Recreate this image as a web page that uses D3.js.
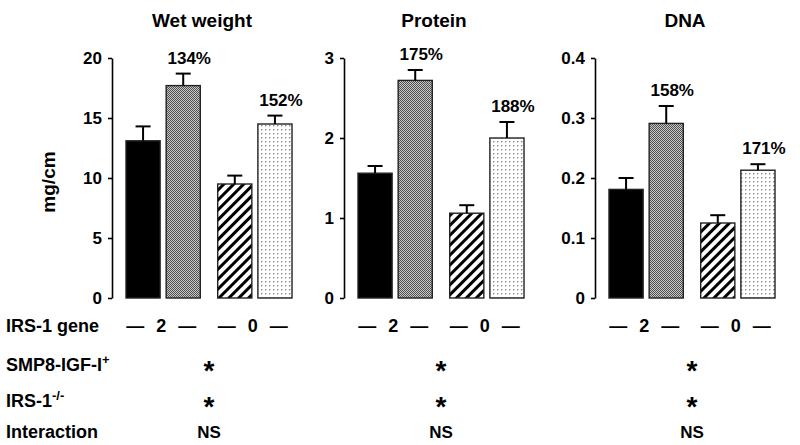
<!DOCTYPE html>
<html>
<head>
<meta charset="utf-8">
<script src="https://cdn.jsdelivr.net/npm/d3@7"></script>
<style>
  html, body { margin: 0; padding: 0; background: #fff; }
  svg { display: block; font-family: "Liberation Sans", Arial, sans-serif; font-weight: bold; }
</style>
</head>
<body>
<svg id="chart" width="800" height="445"></svg>
<script>
// ---------------- DATA ----------------
const panelTitles = ["Wet weight", "Protein", "DNA"];
const geneGroups = ["2", "0"];                  // IRS-1 gene copies
const treatments = ["control", "SMP8-IGF-I+"];  // within each gene group
const wetMean = [13.1, 17.7, 9.5, 14.5];
const wetSE = [1.2, 1.0, 0.7, 0.7];
const proteinMean = [1.56, 2.72, 1.06, 2.0];
const proteinSE = [0.09, 0.13, 0.10, 0.20];
const dnaMean = [0.181, 0.291, 0.125, 0.213];
const dnaSE = [0.019, 0.029, 0.013, 0.010];
const pctLabels = [["134%", "152%"], ["175%", "188%"], ["158%", "171%"]];
const yMax = [20, 3, 0.4];
const yTicks = [[0, 5, 10, 15, 20], [0, 1, 2, 3], [0, 0.1, 0.2, 0.3, 0.4]];
const yLabel = "mg/cm";
const rowLabels = ["IRS-1 gene", "SMP8-IGF-I", "IRS-1", "Interaction"];
const rowSup = ["", "+", "-/-", ""];
const statIGF = ["*", "*", "*"];
const statIRS = ["*", "*", "*"];
const statInteraction = ["NS", "NS", "NS"];

const means = [wetMean, proteinMean, dnaMean];
const ses = [wetSE, proteinSE, dnaSE];

// ---------------- LAYOUT ----------------
const svg = d3.select("#chart");
const axisX = [112, 344, 595];
const barOffset = 14, barsWidth = 166;
const yTop = 58, yBottom = 298;
const rowY = [332, 371, 407, 438];
const fills = ["#000", "url(#checker)", "url(#hatch)", "url(#dots)"];

// patterns
const defs = svg.append("defs");
const chk = defs.append("pattern").attr("id", "checker").attr("patternUnits", "userSpaceOnUse")
  .attr("width", 2).attr("height", 2);
chk.append("rect").attr("width", 2).attr("height", 2).attr("fill", "#c8c8c8");
chk.append("rect").attr("x", 0).attr("y", 0).attr("width", 1).attr("height", 1).attr("fill", "#505050");
chk.append("rect").attr("x", 1).attr("y", 1).attr("width", 1).attr("height", 1).attr("fill", "#505050");

const hatch = defs.append("pattern").attr("id", "hatch").attr("patternUnits", "userSpaceOnUse")
  .attr("width", 7).attr("height", 7).attr("patternTransform", "rotate(45)");
hatch.append("rect").attr("width", 7).attr("height", 7).attr("fill", "#fff");
hatch.append("rect").attr("width", 3).attr("height", 7).attr("fill", "#000");

const dots = defs.append("pattern").attr("id", "dots").attr("patternUnits", "userSpaceOnUse")
  .attr("width", 4).attr("height", 4);
dots.append("rect").attr("width", 4).attr("height", 4).attr("fill", "#fff");
dots.append("rect").attr("x", 1).attr("y", 1).attr("width", 1.4).attr("height", 1.4).attr("fill", "#8a8a8a");

const fmt = d3.format("");

panelTitles.forEach((title, p) => {
  const g = svg.append("g");
  const y = d3.scaleLinear().domain([0, yMax[p]]).range([yBottom, yTop]);
  const x0 = d3.scaleBand().domain(geneGroups)
    .range([axisX[p] + barOffset, axisX[p] + barOffset + barsWidth]).paddingInner(0.19);
  const x1 = d3.scaleBand().domain(treatments).range([0, x0.bandwidth()]).paddingInner(0.15);

  // axis
  const ax = g.append("g").attr("transform", `translate(${axisX[p]},0)`)
    .call(d3.axisLeft(y).tickValues(yTicks[p]).tickFormat(fmt).tickSize(4).tickSizeOuter(0).tickPadding(6));
  ax.select(".domain").attr("stroke", "#000").attr("stroke-width", 1.6);
  ax.selectAll(".tick line").attr("stroke", "#000").attr("stroke-width", 1.6);
  ax.selectAll(".tick text").attr("fill", "#000").style("font-size", "17px")
    .style("font-weight", "bold").style("font-family", "'Liberation Sans', Arial, sans-serif");

  // bars
  const data = means[p].map((m, i) => ({
    m, se: ses[p][i], grp: geneGroups[Math.floor(i / 2)], trt: treatments[i % 2], i
  }));
  const bx = d => x0(d.grp) + x1(d.trt);
  g.selectAll("rect.bar").data(data).join("rect").attr("class", "bar")
    .attr("x", bx).attr("width", x1.bandwidth())
    .attr("y", d => y(d.m)).attr("height", d => y(0) - y(d.m))
    .attr("fill", d => fills[d.i]).attr("stroke", "#222").attr("stroke-width", 1.4);

  // error bars (upper)
  const cap = 15;
  const eb = g.selectAll("g.err").data(data).join("g").attr("class", "err");
  eb.append("line").attr("x1", d => bx(d) + x1.bandwidth() / 2).attr("x2", d => bx(d) + x1.bandwidth() / 2)
    .attr("y1", d => y(d.m)).attr("y2", d => y(d.m + d.se)).attr("stroke", "#000").attr("stroke-width", 2);
  eb.append("line").attr("x1", d => bx(d) + x1.bandwidth() / 2 - cap / 2).attr("x2", d => bx(d) + x1.bandwidth() / 2 + cap / 2)
    .attr("y1", d => y(d.m + d.se)).attr("y2", d => y(d.m + d.se)).attr("stroke", "#000").attr("stroke-width", 2);

  // percentage labels above IGF bars
  data.filter(d => d.i % 2 === 1).forEach((d, k) => {
    g.append("text").attr("x", bx(d) + x1.bandwidth() / 2 + 6).attr("y", y(d.m + d.se) - 16)
      .attr("dy", "0.35em").attr("text-anchor", "middle").style("font-size", "17px").text(pctLabels[p][k]);
  });

  const center = (x0.range()[0] + x0.range()[1]) / 2;
  // title
  g.append("text").attr("x", center - 7).attr("y", 27).attr("text-anchor", "middle")
    .style("font-size", "19px").text(title);

  // IRS-1 gene row labels
  geneGroups.forEach(gr => {
    g.append("text").attr("x", x0(gr) + x0.bandwidth() / 2 - 2).attr("y", rowY[0])
      .attr("text-anchor", "middle").attr("textLength", 70).attr("lengthAdjust", "spacing")
      .style("font-size", "18px").style("white-space", "pre").text(`— ${gr} —`);
  });
  // stats
  [statIGF[p], statIRS[p]].forEach((s, k) => {
    g.append("text").attr("x", center).attr("y", rowY[k + 1] + 9).attr("text-anchor", "middle")
      .style("font-size", "28px").text(s);
  });
  g.append("text").attr("x", center).attr("y", rowY[3]).attr("text-anchor", "middle")
    .style("font-size", "17px").text(statInteraction[p]);
});

// y-axis label
svg.append("text").attr("transform", "translate(55,182) rotate(-90)").attr("text-anchor", "middle")
  .style("font-size", "19px").text(yLabel);

// row labels
rowLabels.forEach((lab, r) => {
  const t = svg.append("text").attr("x", 6).attr("y", rowY[r]).style("font-size", "18px").text(lab);
  if (rowSup[r]) {
    t.append("tspan").attr("dy", -7).style("font-size", "13px").text(rowSup[r]);
  }
});
</script>
</body>
</html>
